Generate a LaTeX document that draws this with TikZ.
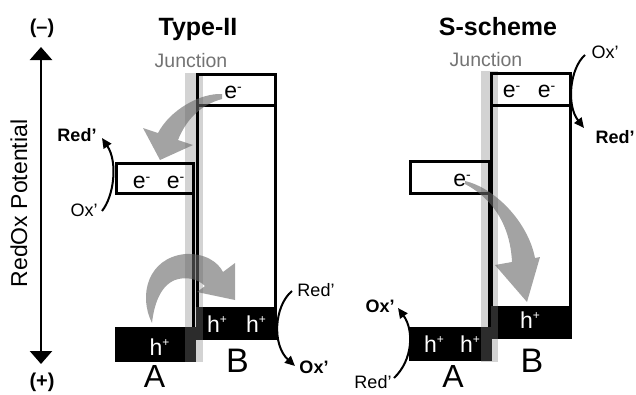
\documentclass[tikz,border=0pt]{standalone}
\usepackage{fontspec}
\setmainfont{Liberation Sans}
\usetikzlibrary{arrows.meta}
\newcommand\eminus{\raisebox{6.5pt}{\fontsize{14}{14}\selectfont -}}
\newcommand\hplus{\raisebox{9pt}{\fontsize{12}{12}\selectfont +}}
\begin{document}
\begin{tikzpicture}[x=1pt,y=-1pt,
  box/.style={line width=3pt, line join=miter},
  hole/.style={fill=black},
  band/.style={fill=black!50, fill opacity=0.35},
  flow/.style={fill=black!60, fill opacity=0.6},
  carrier/.style={inner sep=0pt, anchor=base, font=\fontsize{23}{23}\selectfont},
  wcarrier/.style={carrier, text=white},
  ttl/.style={inner sep=0pt, anchor=base, font=\bfseries\fontsize{25}{25}\selectfont},
  junc/.style={inner sep=0pt, anchor=base, text=black!55, font=\fontsize{19.5}{19.5}\selectfont},
  spec/.style={inner sep=0pt, font=\fontsize{18}{18}\selectfont},
  bspec/.style={inner sep=0pt, font=\bfseries\fontsize{18}{18}\selectfont},
  semi/.style={inner sep=0pt, anchor=base, font=\fontsize{34}{34}\selectfont},
  sign/.style={inner sep=0pt, font=\bfseries\fontsize{20}{20}\selectfont},
  rxn/.style={line width=2pt, -{Triangle[length=10pt,width=9pt]}},
  axis/.style={line width=2.5pt, {Triangle[length=13pt,width=22pt]}-{Triangle[length=13pt,width=22pt]}},
]
\useasboundingbox (0,0) rectangle (636,394);

% ---------- potential axis ----------
\node[sign] (minus) at (42,28) {(–)};
\node[sign] (plus) at (42,382) {(+)};
\coordinate (axt) at (41,47);
\coordinate (axb) at (41,364);
\draw[axis] (axb) -- (axt);
\node[inner sep=0pt, anchor=base, rotate=90, font=\fontsize{23}{23}\selectfont] (axlab) at (27,203.5) {RedOx Potential};

% ---------- titles ----------
\node[ttl] (t1) at (198,35) {Type-II};
\node[ttl] (t2) at (498,35) {S-scheme};
\node[junc] (j1) at (191,67) {Junction};
\node[junc] (j2) at (486,66) {Junction};

% ---------- hole (valence band) blocks ----------
\fill[hole] (115,327) rectangle (196,362);
\fill[hole] (196,307) rectangle (277,340);
\fill[hole] (409,327) rectangle (492,361);
\fill[hole] (490,306) rectangle (572,339);

% ---------- junction bands ----------
\fill[band] (185,73) rectangle (203,362);
\fill[band] (481,71) rectangle (498,362);

% ---------- outlines Type-II ----------
\draw[box] (116.5,163.5) rectangle (193.5,193.5);
\draw[box] (193.5,193.5) -- (193.5,327);
\draw[box] (197.5,307) |- (275.5,74.5) -- (275.5,307);
\draw[box] (197.5,105.5) -- (275.5,105.5);

% ---------- outlines S-scheme ----------
\draw[box] (410,161.5) rectangle (489.5,193);
\draw[box] (489.5,193) -- (489.5,327);
\draw[box] (491.5,306) |- (570,73.5) -- (570,306);
\draw[box] (491.5,105.5) -- (570,105.5);

% ---------- charge flows ----------
\fill[flow] (222,94) .. controls (200,93) and (170,110) .. (158,133)
  -- (143,128) -- (160,160) -- (193,145) -- (178,140)
  .. controls (186,120) and (200,105) .. (222,99) -- cycle;
\fill[flow] (152,323) .. controls (138,295) and (148,258) .. (185,254)
  .. controls (205,253) and (218,262) .. (223,272)
  -- (235,263) -- (235,300) -- (197,292) -- (205,286)
  .. controls (198,279) and (186,276) .. (175,280)
  .. controls (160,286) and (154,305) .. (152,323) -- cycle;
\fill[flow] (465,181) .. controls (495,188) and (528,222) .. (535,258)
  -- (540,257) -- (527,302) -- (495,265) -- (512,262)
  .. controls (510,220) and (488,196) .. (465,184) -- cycle;

% ---------- carriers ----------
\node[carrier] (eB1) at (233,98) {e\eminus};
\node[carrier] (eA1) at (141.5,188) {e\eminus};
\node[carrier] (eA2) at (175.5,188) {e\eminus};
\node[wcarrier] (hA1) at (159.5,355) {h\hplus};
\node[wcarrier] (hB1) at (217,332) {h\hplus};
\node[wcarrier] (hB2) at (256,332) {h\hplus};

\node[carrier] (seB1) at (511.5,97) {e\eminus};
\node[carrier] (seB2) at (546.5,97) {e\eminus};
\node[carrier] (seA1) at (462,186) {e\eminus};
\node[wcarrier] (shA1) at (434,352) {h\hplus};
\node[wcarrier] (shA2) at (470,352) {h\hplus};
\node[wcarrier] (shB1) at (530,328) {h\hplus};

% ---------- semiconductor labels ----------
\node[semi, font=\fontsize{32}{32}\selectfont] (A1) at (154.5,387) {A};
\node[semi] (B1) at (237.5,372.5) {B};
\node[semi, font=\fontsize{32}{32}\selectfont] (A2) at (453,387) {A};
\node[semi] (B2) at (532,372) {B};

% ---------- redox reactions Type-II ----------
\node[bspec] (red1) at (77,135) {Red’};
\node[spec] (ox1) at (84,210) {Ox’};
\coordinate (r1s) at (102,211);
\coordinate (r1e) at (102,138);
\draw[rxn] (r1s) .. controls (114,196) and (118,162) .. (r1e);

\node[spec] (red2) at (316,290) {Red’};
\node[bspec] (ox2) at (314,367) {Ox’};
\coordinate (r2s) at (292,291);
\coordinate (r2e) at (295,366);
\draw[rxn] (r2s) .. controls (274,306) and (272,345) .. (r2e);

% ---------- redox reactions S-scheme ----------
\node[spec] (ox3) at (605,52) {Ox’};
\node[bspec] (red3) at (615,137) {Red’};
\coordinate (r3s) at (585,55);
\coordinate (r3e) at (584,128);
\draw[rxn] (r3s) .. controls (570,68) and (566,105) .. (r3e);

\node[bspec] (ox4) at (380,306) {Ox’};
\node[spec] (red4) at (373,382) {Red’};
\coordinate (r4s) at (394,378);
\coordinate (r4e) at (398,308);
\draw[rxn] (r4s) .. controls (413,360) and (414,330) .. (r4e);
\end{tikzpicture}
\end{document}
